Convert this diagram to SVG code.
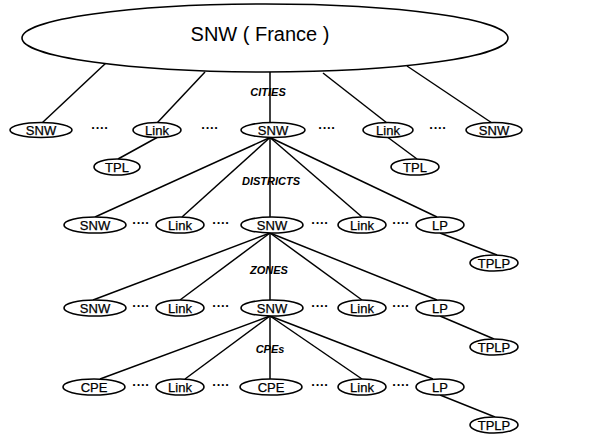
<svg xmlns="http://www.w3.org/2000/svg" width="600" height="436" viewBox="0 0 600 436">
  <style>
    .n { fill: #fff; stroke: #000; stroke-width: 1.6; }
    .t { font-family: "Liberation Sans", Arial, sans-serif; font-size: 13px; text-anchor: middle; fill: #000; stroke: #000; stroke-width: 0.25; }
    .d { font-family: "Liberation Sans", Arial, sans-serif; font-size: 13px; font-weight: bold; text-anchor: middle; fill: #000; }
    .lvl { font-family: "Liberation Sans", Arial, sans-serif; font-size: 11px; font-weight: bold; font-style: italic; text-anchor: middle; fill: #000; }
    #edges line { stroke: #000; stroke-width: 1.5; }
  </style>
  <rect width="600" height="436" fill="#fff"/>

  <!-- connectors -->
  <g id="edges">
    <!-- root to cities -->
    <line x1="107" y1="62" x2="42" y2="123"/>
    <line x1="205" y1="72" x2="157" y2="123"/>
    <line x1="270" y1="72" x2="270" y2="123"/>
    <line x1="323" y1="73" x2="387" y2="123"/>
    <line x1="407" y1="66" x2="492" y2="123"/>
    <line x1="157" y1="137.5" x2="118" y2="159"/>
    <line x1="388" y1="137.5" x2="417" y2="159"/>
    <!-- city to districts -->
    <line x1="270" y1="137.5" x2="95" y2="217"/>
    <line x1="270" y1="137.5" x2="182" y2="217"/>
    <line x1="270" y1="137.5" x2="270" y2="217"/>
    <line x1="270" y1="137.5" x2="362" y2="217"/>
    <line x1="270" y1="137.5" x2="437" y2="217"/>
    <line x1="440" y1="233" x2="497" y2="255"/>
    <!-- district to zones -->
    <line x1="270" y1="233" x2="93" y2="300"/>
    <line x1="270" y1="233" x2="180" y2="300"/>
    <line x1="270" y1="233" x2="270" y2="300"/>
    <line x1="270" y1="233" x2="362" y2="300"/>
    <line x1="270" y1="233" x2="437" y2="300"/>
    <line x1="440" y1="316" x2="494" y2="339"/>
    <!-- zone to CPEs -->
    <line x1="270" y1="316" x2="100" y2="379"/>
    <line x1="270" y1="316" x2="185" y2="379"/>
    <line x1="270" y1="316" x2="270" y2="379"/>
    <line x1="270" y1="316" x2="362" y2="379"/>
    <line x1="270" y1="316" x2="433" y2="379"/>
    <line x1="440" y1="395" x2="495" y2="417"/>
  </g>

  <!-- root -->
  <g id="root">
    <ellipse class="n" cx="265" cy="38" rx="243" ry="34"/>
    <text x="260" y="41" font-family="Liberation Sans, Arial, sans-serif" font-size="20" text-anchor="middle">SNW ( France )</text>
  </g>

  <!-- level labels -->
  <text class="lvl" x="268" y="96">CITIES</text>
  <text class="lvl" x="271" y="185">DISTRICTS</text>
  <text class="lvl" x="269" y="274">ZONES</text>
  <text class="lvl" x="270" y="353">CPEs</text>

  <!-- cities -->
  <g id="c1"><ellipse class="n" cx="41" cy="130" rx="31" ry="7.5"/><text class="t" x="41" y="134.5">SNW</text></g>
  <g id="c2"><ellipse class="n" cx="157" cy="130" rx="24" ry="7.5"/><text class="t" x="157" y="134.5">Link</text></g>
  <g id="c3"><ellipse class="n" cx="273" cy="130" rx="32" ry="7.5"/><text class="t" x="273" y="134.5">SNW</text></g>
  <g id="c4"><ellipse class="n" cx="388" cy="130" rx="25" ry="7.5"/><text class="t" x="388" y="134.5">Link</text></g>
  <g id="c5"><ellipse class="n" cx="494" cy="130" rx="28" ry="7.5"/><text class="t" x="494" y="134.5">SNW</text></g>
  <g id="c2tpl"><ellipse class="n" cx="117" cy="167" rx="23" ry="8"/><text class="t" x="117" y="171.5">TPL</text></g>
  <g id="c4tpl"><ellipse class="n" cx="415" cy="167" rx="24" ry="8"/><text class="t" x="415" y="171.5">TPL</text></g>
  <g class="dots">
    <text class="d" x="100" y="132">····</text>
    <text class="d" x="210" y="132">····</text>
    <text class="d" x="327" y="132">····</text>
    <text class="d" x="438" y="132">····</text>
  </g>

  <!-- districts -->
  <g id="d1"><ellipse class="n" cx="95" cy="225" rx="31" ry="8"/><text class="t" x="95" y="229.5">SNW</text></g>
  <g id="d2"><ellipse class="n" cx="180" cy="225" rx="24" ry="8"/><text class="t" x="180" y="229.5">Link</text></g>
  <g id="d3"><ellipse class="n" cx="272" cy="225" rx="31" ry="8"/><text class="t" x="272" y="229.5">SNW</text></g>
  <g id="d4"><ellipse class="n" cx="362" cy="225" rx="24" ry="8"/><text class="t" x="362" y="229.5">Link</text></g>
  <g id="d5"><ellipse class="n" cx="440" cy="225" rx="24" ry="8"/><text class="t" x="440" y="229.5">LP</text></g>
  <g id="d5tplp"><ellipse class="n" cx="494" cy="263" rx="24" ry="8"/><text class="t" x="494" y="267.5">TPLP</text></g>
  <g class="dots">
    <text class="d" x="141" y="227">····</text>
    <text class="d" x="221" y="227">····</text>
    <text class="d" x="320" y="227">····</text>
    <text class="d" x="401" y="227">····</text>
  </g>

  <!-- zones -->
  <g id="z1"><ellipse class="n" cx="95" cy="308" rx="31" ry="8"/><text class="t" x="95" y="312.5">SNW</text></g>
  <g id="z2"><ellipse class="n" cx="180" cy="308" rx="24" ry="8"/><text class="t" x="180" y="312.5">Link</text></g>
  <g id="z3"><ellipse class="n" cx="272" cy="308" rx="31" ry="8"/><text class="t" x="272" y="312.5">SNW</text></g>
  <g id="z4"><ellipse class="n" cx="362" cy="308" rx="24" ry="8"/><text class="t" x="362" y="312.5">Link</text></g>
  <g id="z5"><ellipse class="n" cx="440" cy="308" rx="24" ry="8"/><text class="t" x="440" y="312.5">LP</text></g>
  <g id="z5tplp"><ellipse class="n" cx="494" cy="347" rx="24" ry="8"/><text class="t" x="494" y="351.5">TPLP</text></g>
  <g class="dots">
    <text class="d" x="141" y="310">····</text>
    <text class="d" x="221" y="310">····</text>
    <text class="d" x="320" y="310">····</text>
    <text class="d" x="401" y="310">····</text>
  </g>

  <!-- customer premises -->
  <g id="p1"><ellipse class="n" cx="94" cy="387" rx="31" ry="8"/><text class="t" x="94" y="391.5">CPE</text></g>
  <g id="p2"><ellipse class="n" cx="180" cy="387" rx="24" ry="8"/><text class="t" x="180" y="391.5">Link</text></g>
  <g id="p3"><ellipse class="n" cx="271" cy="387" rx="31" ry="8"/><text class="t" x="271" y="391.5">CPE</text></g>
  <g id="p4"><ellipse class="n" cx="362" cy="387" rx="24" ry="8"/><text class="t" x="362" y="391.5">Link</text></g>
  <g id="p5"><ellipse class="n" cx="440" cy="387" rx="24" ry="8"/><text class="t" x="440" y="391.5">LP</text></g>
  <g id="p5tplp"><ellipse class="n" cx="494" cy="425" rx="24" ry="8"/><text class="t" x="494" y="429.5">TPLP</text></g>
  <g class="dots">
    <text class="d" x="141" y="389">····</text>
    <text class="d" x="221" y="389">····</text>
    <text class="d" x="320" y="389">····</text>
    <text class="d" x="401" y="389">····</text>
  </g>
</svg>
